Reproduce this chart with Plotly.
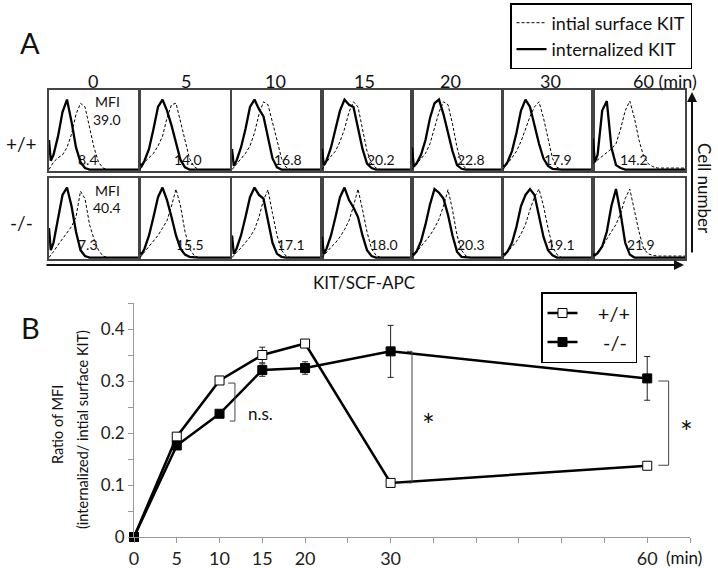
import plotly.graph_objects as go

W, H = 718, 568
FONT = "Lato"

# ---------------- Panel B data ----------------
TIME = [0, 5, 10, 15, 20, 30, 60]
WT_RATIO = [0, 0.193, 0.301, 0.350, 0.372, 0.104, 0.137]
WT_ERR = [0, 0.0, 0.0, 0.015, 0.0, 0.0, 0.0]
KO_RATIO = [0, 0.176, 0.237, 0.321, 0.325, 0.357, 0.305]
KO_ERR = [0, 0.0, 0.0, 0.012, 0.012, 0.050, 0.042]
X_TICKS = list(range(0, 66, 5))
X_TICK_LABELS = {0: "0", 5: "5", 10: "10", 15: "15", 20: "20", 30: "30", 60: "60"}
Y_TICKS = [0, 0.05, 0.1, 0.15, 0.2, 0.25, 0.3, 0.35, 0.4, 0.45]
Y_TICK_LABELS = ["0", "", "0.1", "", "0.2", "", "0.3", "", "0.4", ""]

# ---------------- Panel A data ----------------
TIME_LABELS = ["0", "5", "10", "15", "20", "30", "60 (min)"]
ROW_LABELS = ["+/+", "-/-"]
WT_INIT_MFI = "39.0"
KO_INIT_MFI = "40.4"
WT_INT_MFI = ["8.4", "14.0", "16.8", "20.2", "22.8", "17.9", "14.2"]
KO_INT_MFI = ["7.3", "15.5", "17.1", "18.0", "20.3", "19.1", "21.9"]

HIST_X = [0, 2, 5, 10, 15, 20, 25, 30, 35, 40, 45, 50, 55, 60, 65, 70, 80, 90, 100]

WT_INITIAL = [
    [0, .04, .10, .16, .20, .30, .48, .75, .90, .85, .55, .30, .10, .02, 0, 0, 0, 0, 0],
    [0, .04, .10, .16, .22, .32, .45, .70, .88, .90, .65, .40, .15, .04, 0, 0, 0, 0, 0],
    [0, .03, .08, .15, .22, .32, .50, .75, .92, .88, .65, .40, .15, .03, 0, 0, 0, 0, 0],
    [0, .04, .10, .18, .25, .38, .55, .78, .92, .85, .55, .25, .08, .02, 0, 0, 0, 0, 0],
    [0, .03, .08, .15, .22, .35, .55, .78, .92, .88, .62, .30, .08, .01, 0, 0, 0, 0, 0],
    [0, .03, .08, .16, .25, .38, .55, .72, .85, .92, .70, .40, .15, .03, 0, 0, 0, 0, 0],
    [.08, .10, .12, .18, .22, .28, .35, .55, .80, .93, .70, .40, .18, .08, .04, .02, .02, .02, .02],
]
WT_INTERNAL = [
    [.40, .12, .20, .45, .78, .95, .65, .30, .10, .02, 0, 0, 0, 0, 0, 0, 0, 0, 0],
    [.08, .05, .12, .28, .55, .85, .95, .80, .60, .35, .13, .03, 0, 0, 0, 0, 0, 0, 0],
    [.28, .05, .12, .30, .55, .85, .95, .82, .72, .45, .15, .03, 0, 0, 0, 0, 0, 0, 0],
    [.28, .06, .12, .30, .55, .80, .95, .88, .85, .55, .28, .08, .02, 0, 0, 0, 0, 0, 0],
    [.30, .04, .08, .20, .40, .70, .90, .95, .75, .50, .25, .06, .01, 0, 0, 0, 0, 0, 0],
    [.05, .05, .10, .25, .50, .80, .95, .85, .60, .35, .15, .05, .01, 0, 0, 0, 0, 0, 0],
    [.42, .10, .20, .80, .93, .30, .06, .02, 0, 0, 0, 0, 0, 0, 0, 0, 0, 0, 0],
]
KO_INITIAL = [
    [0, .03, .08, .17, .25, .33, .42, .55, .90, .80, .45, .25, .10, .02, 0, 0, 0, 0, 0],
    [0, .03, .08, .15, .22, .30, .40, .50, .70, .93, .70, .35, .12, .03, 0, 0, 0, 0, 0],
    [0, .03, .07, .13, .20, .28, .38, .55, .78, .92, .60, .30, .10, .02, 0, 0, 0, 0, 0],
    [0, .03, .07, .14, .20, .28, .38, .50, .70, .93, .65, .35, .12, .03, 0, 0, 0, 0, 0],
    [0, .03, .08, .15, .22, .30, .40, .52, .70, .92, .65, .30, .10, .02, 0, 0, 0, 0, 0],
    [0, .03, .08, .15, .22, .32, .45, .65, .82, .93, .70, .40, .15, .04, 0, 0, 0, 0, 0],
    [.05, .05, .08, .15, .25, .35, .45, .60, .80, .93, .65, .35, .12, .05, .03, .02, .02, .02, .02],
]
KO_INTERNAL = [
    [.40, .10, .20, .50, .85, .95, .70, .35, .10, .02, 0, 0, 0, 0, 0, 0, 0, 0, 0],
    [.06, .05, .12, .30, .55, .82, .95, .78, .55, .30, .12, .04, .01, 0, 0, 0, 0, 0, 0],
    [.30, .05, .12, .30, .55, .82, .95, .85, .80, .50, .20, .05, .01, 0, 0, 0, 0, 0, 0],
    [.28, .05, .12, .30, .55, .82, .95, .78, .68, .55, .30, .10, .02, 0, 0, 0, 0, 0, 0],
    [.05, .04, .08, .22, .45, .72, .93, .88, .80, .58, .30, .08, .01, 0, 0, 0, 0, 0, 0],
    [.05, .04, .08, .20, .42, .70, .85, .93, .85, .55, .28, .10, .03, 0, 0, 0, 0, 0, 0],
    [.03, .03, .06, .15, .35, .70, .93, .60, .20, .04, 0, 0, 0, 0, 0, 0, 0, 0, 0],
]


def px(x):
    return x / W


def py(y):
    return 1 - y / H


fig = go.Figure()

# ---------------- Panel A: histograms ----------------
LEFTS = [49, 140, 232, 322, 412, 503, 593]
PW = 90
TOPS = [90, 178]
PH = 81
axes = {}
rows = [(WT_INITIAL, WT_INTERNAL), (KO_INITIAL, KO_INTERNAL)]
k = 2
for r, (init, intern) in enumerate(rows):
    for c in range(7):
        xa, ya = f"x{k}", f"y{k}"
        first = (r == 0 and c == 0)
        fig.add_trace(go.Scatter(
            x=HIST_X, y=init[c], mode="lines", xaxis=xa, yaxis=ya,
            line=dict(color="black", width=1, dash="3px,2px"),
            name="intial surface KIT", showlegend=first, legend="legend2",
            hoverinfo="skip"))
        fig.add_trace(go.Scatter(
            x=HIST_X, y=intern[c], mode="lines", xaxis=xa, yaxis=ya,
            line=dict(color="black", width=2.3),
            name="internalized KIT", showlegend=first, legend="legend2",
            hoverinfo="skip"))
        w = PW + (2 if c == 6 else 0)
        axes[f"xaxis{k}"] = dict(domain=[px(LEFTS[c]), px(LEFTS[c] + w)], range=[0, 100],
                                 anchor=ya, showline=True, mirror=True, linecolor="#444",
                                 linewidth=1.5, showticklabels=False, ticks="",
                                 showgrid=False, zeroline=False)
        axes[f"yaxis{k}"] = dict(domain=[py(TOPS[r] + PH), py(TOPS[r])], range=[-0.02, 1.08],
                                 anchor=xa, showline=True, mirror=True, linecolor="#444",
                                 linewidth=1.5, showticklabels=False, ticks="",
                                 showgrid=False, zeroline=False)
        k += 1

annotations = []


def txt(x, y, s, size, **kw):
    d = dict(x=px(x), y=py(y), xref="paper", yref="paper", text=s, showarrow=False,
             font=dict(family=FONT, size=size, color="#111"), xanchor="center", yanchor="middle")
    d.update(kw)
    annotations.append(d)


HEADER_X = [93, 186, 275, 364, 450, 550, 665]
for lab, hx in zip(TIME_LABELS, HEADER_X):
    txt(hx, 81, lab, 18)
txt(21, 143, ROW_LABELS[0], 19)
txt(21, 222, ROW_LABELS[1], 19)
txt(30, 43, "A", 29)
txt(30, 327, "B", 29)

txt(107, 101, "MFI", 14)
txt(107, 120, WT_INIT_MFI, 14)
txt(107, 190, "MFI", 14)
txt(107, 208, KO_INIT_MFI, 14)
ROW1_NUM_X = [88, 188, 288, 381, 471, 558, 634]
ROW2_NUM_X = [88, 190, 291, 384, 471, 561, 641]
for s, nx in zip(WT_INT_MFI, ROW1_NUM_X):
    txt(nx, 159, s, 14)
for s, nx in zip(KO_INT_MFI, ROW2_NUM_X):
    txt(nx, 244, s, 14)

txt(364, 283, "KIT/SCF-APC", 17)
txt(705, 188, "Cell number", 17, textangle=90)

# arrows
annotations.append(dict(x=px(684), y=py(265), xref="paper", yref="paper", text="",
                        showarrow=True, ax=-639, ay=0, arrowhead=2, arrowsize=1,
                        arrowwidth=2, arrowcolor="#111"))
annotations.append(dict(x=px(692), y=py(92), xref="paper", yref="paper", text="",
                        showarrow=True, ax=0, ay=162, arrowhead=2, arrowsize=1,
                        arrowwidth=2, arrowcolor="#111"))

# ---------------- Panel B: line chart ----------------
fig.add_trace(go.Scatter(
    x=TIME, y=WT_RATIO, mode="lines+markers", name="&nbsp;&nbsp;&nbsp;+/+",
    line=dict(color="black", width=2.5),
    marker=dict(symbol="square", size=9, color="white", line=dict(color="black", width=1)),
    error_y=dict(type="data", array=WT_ERR, color="#222", thickness=1, width=3),
    cliponaxis=False, legend="legend"))
fig.add_trace(go.Scatter(
    x=TIME, y=KO_RATIO, mode="lines+markers", name="&nbsp;&nbsp;&nbsp;&nbsp;-/-",
    line=dict(color="black", width=2.5),
    marker=dict(symbol="square", size=9, color="black", line=dict(color="black", width=1)),
    error_y=dict(type="data", array=KO_ERR, color="#222", thickness=1, width=3),
    cliponaxis=False, legend="legend"))

shapes = [
    dict(type="path", xref="x", yref="y", path="M 11,0.296 L 11.8,0.296 L 11.8,0.223 L 11.2,0.223",
         line=dict(color="#444", width=1)),
    dict(type="path", xref="x", yref="y", path="M 31.9,0.357 L 32.5,0.357 L 32.5,0.104 L 31.9,0.104",
         line=dict(color="#444", width=1)),
    dict(type="path", xref="x", yref="y", path="M 61.3,0.300 L 62.5,0.300 L 62.5,0.138 L 61.3,0.138",
         line=dict(color="#444", width=1)),
]
annotations.append(dict(x=14.75, y=0.237, xref="x", yref="y", text="n.s.", showarrow=False,
                        font=dict(family=FONT, size=17, color="#111")))
annotations.append(dict(x=34.4, y=0.218, xref="x", yref="y", text="*", showarrow=False,
                        font=dict(family=FONT, size=30, color="#111")))
annotations.append(dict(x=64.6, y=0.203, xref="x", yref="y", text="*", showarrow=False,
                        font=dict(family=FONT, size=30, color="#111")))
txt(684, 557, "(min)", 17)
txt(58, 425, "Ratio of MFI", 14.5, textangle=-90)
txt(82, 430, "(internalized/ intial surface KIT)", 14.5, textangle=-90)

fig.update_layout(
    width=W, height=H, autosize=False,
    margin=dict(l=0, r=0, t=0, b=0, autoexpand=False),
    paper_bgcolor="white", plot_bgcolor="white",
    font=dict(family=FONT, color="#111"),
    xaxis=dict(domain=[px(134), px(690)], range=[0, 65], tickvals=X_TICKS,
               ticktext=[X_TICK_LABELS.get(v, "") for v in X_TICKS],
               ticks="outside", ticklen=5, tickcolor="#999", showline=True, linecolor="#999",
               showgrid=False, zeroline=False, tickfont=dict(family=FONT, size=18, color="#222"),
               anchor="y", automargin=False),
    yaxis=dict(domain=[py(537), py(303)], range=[0, 0.45], tickvals=Y_TICKS,
               ticktext=Y_TICK_LABELS, ticks="outside", ticklen=5, tickcolor="#999",
               showline=True, linecolor="#999", showgrid=False, zeroline=False,
               tickfont=dict(family=FONT, size=17, color="#222"), anchor="x", automargin=False),
    legend=dict(x=px(541), y=py(292), xanchor="left", yanchor="top", bgcolor="white",
                bordercolor="black", borderwidth=1.5, font=dict(family=FONT, size=20),
                tracegroupgap=0, itemwidth=30),
    legend2=dict(x=px(510), y=py(3), xanchor="left", yanchor="top", bgcolor="white",
                 bordercolor="black", borderwidth=1.5, font=dict(family=FONT, size=18),
                 tracegroupgap=0, itemwidth=30),
    shapes=shapes,
    annotations=annotations,
    **axes,
)

fig.write_html("out.html", config={"displayModeBar": False},
               post_script="document.body.style.margin='0';document.body.style.padding='0';")
